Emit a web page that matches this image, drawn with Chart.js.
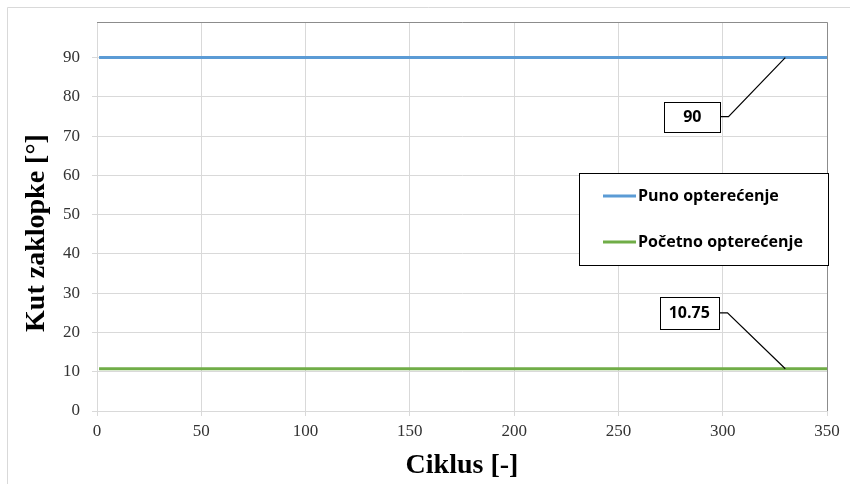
<!DOCTYPE html>
<html>
<head>
<meta charset="utf-8">
<script src="https://cdn.jsdelivr.net/npm/chart.js@4.4.0/dist/chart.umd.min.js"></script>
<style>
  html, body { margin: 0; padding: 0; background: #fff; }
  canvas { display: block; }
</style>
</head>
<body>
<canvas id="kutChart" width="850" height="484"></canvas>
<script>
// Chart data
const cycles = [1, 330, 350];
const punoValues = [90, 90, 90];
const pocetnoValues = [10.75, 10.75, 10.75];
const seriesNames = ['Puno opterećenje', 'Početno opterećenje'];
const seriesColors = ['#5b9bd5', '#70ad47'];
const xTicks = [0, 50, 100, 150, 200, 250, 300, 350];
const yTicks = [0, 10, 20, 30, 40, 50, 60, 70, 80, 90];
const xTitle = 'Ciklus [-]';
const yTitle = 'Kut zaklopke [°]';

// Callout labels: which dataset, which point index
const callouts = [
    { dataset: 0, index: 1, text: '90', dx: -93, dy: 59, w: 56, h: 30 },
    { dataset: 1, index: 1, text: '10.75', dx: -96, dy: -56, w: 59, h: 32 }
];

function toPoints(xs, ys) {
    return xs.map((x, i) => ({ x: x, y: ys[i] }));
}

// Draws frame, axis titles, legend and callouts
const decorPlugin = {
    id: 'decor',
    beforeDraw(chart) {
        const ctx = chart.ctx;
        ctx.save();
        ctx.fillStyle = '#fff';
        ctx.fillRect(0, 0, chart.width, chart.height);
        // outer chart border
        ctx.strokeStyle = '#d9d9d9';
        ctx.lineWidth = 1;
        ctx.beginPath();
        ctx.moveTo(7.5, chart.height);
        ctx.lineTo(7.5, 7.5);
        ctx.lineTo(chart.width, 7.5);
        ctx.stroke();
        ctx.restore();
    },
    afterDatasetsDraw(chart) {
        const ctx = chart.ctx;
        const area = chart.chartArea;
        ctx.save();

        // plot area top/right border
        ctx.strokeStyle = '#8c8c8c';
        ctx.lineWidth = 1;
        ctx.beginPath();
        ctx.moveTo(area.left, Math.round(area.top) + 0.5);
        ctx.lineTo(Math.round(area.right) + 0.5, Math.round(area.top) + 0.5);
        ctx.lineTo(Math.round(area.right) + 0.5, area.bottom);
        ctx.stroke();

        // axis titles
        ctx.fillStyle = '#000';
        ctx.font = 'bold 28px "Liberation Serif", "Times New Roman", serif';
        ctx.textAlign = 'center';
        ctx.textBaseline = 'middle';
        ctx.fillText(xTitle, (area.left + area.right) / 2, 466);
        ctx.save();
        ctx.translate(37, 233);
        ctx.rotate(-Math.PI / 2);
        ctx.fillText(yTitle, 0, 0);
        ctx.restore();

        // legend box
        const lx = 579.5, ly = 173.5, lw = 249, lh = 92;
        ctx.fillStyle = '#fff';
        ctx.fillRect(lx, ly, lw, lh);
        ctx.strokeStyle = '#000';
        ctx.strokeRect(lx, ly, lw, lh);
        ctx.font = 'bold 16px "Open Sans", Lato, sans-serif';
        ctx.textAlign = 'left';
        chart.data.datasets.forEach((ds, i) => {
            const y = 196 + i * 46;
            ctx.strokeStyle = ds.borderColor;
            ctx.lineWidth = 3;
            ctx.beginPath();
            ctx.moveTo(603, y);
            ctx.lineTo(636, y);
            ctx.stroke();
            ctx.fillStyle = '#000';
            ctx.fillText(ds.label, 638, y);
        });

        // callouts
        callouts.forEach(c => {
            const pt = chart.getDatasetMeta(c.dataset).data[c.index];
            const bx = pt.x + c.dx, by = pt.y + c.dy;
            const left = Math.round(bx - c.w / 2) + 0.5;
            const top = Math.round(by - c.h / 2) + 0.5;
            const right = left + c.w;
            ctx.strokeStyle = '#000';
            ctx.lineWidth = 1.2;
            ctx.beginPath();
            ctx.moveTo(right, by);
            ctx.lineTo(right + 8, by);
            ctx.lineTo(pt.x, pt.y);
            ctx.stroke();
            ctx.fillStyle = '#fff';
            ctx.fillRect(left, top, c.w, c.h);
            ctx.lineWidth = 1;
            ctx.strokeRect(left, top, c.w, c.h);
            ctx.fillStyle = '#000';
            ctx.textAlign = 'center';
            ctx.font = 'bold 16px "Open Sans", Lato, sans-serif';
            ctx.fillText(c.text, bx, by + 1);
        });
        ctx.restore();
    }
};

const ctx = document.getElementById('kutChart').getContext('2d');
const kutChart = new Chart(ctx, {
    type: 'line',
    data: {
        datasets: [
            {
                label: seriesNames[0],
                data: toPoints(cycles, punoValues),
                borderColor: seriesColors[0],
                backgroundColor: seriesColors[0],
                borderWidth: 3,
                pointRadius: 0
            },
            {
                label: seriesNames[1],
                data: toPoints(cycles, pocetnoValues),
                borderColor: seriesColors[1],
                backgroundColor: seriesColors[1],
                borderWidth: 3,
                pointRadius: 0
            }
        ]
    },
    options: {
        responsive: false,
        animation: false,
        layout: { padding: { top: 21, right: 23, left: 0, bottom: 0 } },
        plugins: {
            legend: { display: false },
            tooltip: { enabled: false }
        },
        scales: {
            x: {
                type: 'linear',
                min: 0,
                max: 350,
                afterBuildTicks: scale => { scale.ticks = xTicks.map(v => ({ value: v })); },
                afterFit: scale => { scale.height = 73; },
                grid: { color: '#d9d9d9', tickLength: 5, tickColor: '#d9d9d9' },
                border: { color: '#d9d9d9' },
                ticks: {
                    padding: 5,
                    color: '#333333',
                    maxRotation: 0,
                    font: { family: '"Liberation Serif", "Times New Roman", serif', size: 17 }
                }
            },
            y: {
                min: 0,
                max: 99,
                afterBuildTicks: scale => { scale.ticks = yTicks.map(v => ({ value: v })); },
                afterFit: scale => { scale.width = 97; },
                grid: { color: '#d9d9d9', tickLength: 5, tickColor: '#d9d9d9' },
                border: { color: '#d9d9d9' },
                ticks: {
                    padding: 12,
                    color: '#333333',
                    font: { family: '"Liberation Serif", "Times New Roman", serif', size: 17 }
                }
            }
        }
    },
    plugins: [decorPlugin]
});
</script>
</body>
</html>
